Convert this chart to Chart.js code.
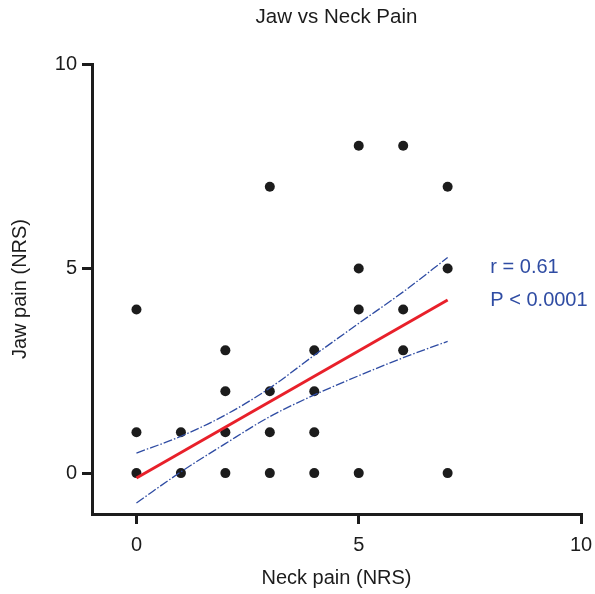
<!DOCTYPE html>
<html>
<head>
<meta charset="utf-8">
<script src="https://cdn.jsdelivr.net/npm/chart.js@4.4.1/dist/chart.umd.min.js"></script>
<style>
    html, body { margin: 0; padding: 0; background: #fff; }
    #wrap { width: 595px; height: 594px; }
</style>
</head>
<body>
<div id="wrap"><canvas id="chart" width="595" height="594"></canvas></div>
<script>
// observed scores (neck pain x, jaw pain y)
var neckPain = [0, 0, 0, 1, 1, 2, 2, 2, 2, 3, 3, 3, 3, 4, 4, 4, 4, 5, 5, 5, 5, 6, 6, 6, 7, 7, 7];
var jawPain  = [0, 1, 4, 0, 1, 0, 1, 2, 3, 0, 1, 2, 7, 0, 1, 2, 3, 0, 4, 5, 8, 3, 4, 8, 0, 5, 7];

// fitted line and 95% band
var fitX = [0, 7];
var fitY = [-0.12, 4.23];
var bandX = [0, 1, 2, 3, 4, 5, 6, 7];
var bandUpper = [0.49, 0.90, 1.42, 2.08, 2.88, 3.66, 4.43, 5.27];
var bandLower = [-0.73, 0.03, 0.72, 1.38, 1.91, 2.38, 2.82, 3.22];

var axisTicks = [0, 5, 10];
var chartTitle = 'Jaw vs Neck Pain';
var statLines = ['r = 0.61', 'P < 0.0001'];
var statY = [5.03, 4.22];

var FONT = '"Liberation Sans", Arial, Helvetica, sans-serif';
var INK = '#1c1c1c';
var BLUE = '#2f4ca3';

function toPoints(xs, ys) {
    var out = [];
    for (var i = 0; i < xs.length; i++) out.push({ x: xs[i], y: ys[i] });
    return out;
}

function fixedTicks(scale) {
    scale.ticks = axisTicks.map(function (v) { return { value: v }; });
}

// title is centred over the plot area, not the canvas; stats sit right of the fit
var textPlugin = {
    id: 'texts',
    afterDatasetsDraw: function (chart) {
        var ctx = chart.ctx;
        var area = chart.chartArea;
        var xs = chart.scales.x, ys = chart.scales.y;
        ctx.save();
        ctx.textBaseline = 'middle';

        ctx.font = '20.5px ' + FONT;
        ctx.fillStyle = INK;
        ctx.textAlign = 'center';
        ctx.fillText(chartTitle, (area.left + area.right) / 2, 17);

        ctx.font = '20px ' + FONT;
        ctx.fillStyle = BLUE;
        ctx.textAlign = 'left';
        for (var i = 0; i < statLines.length; i++) {
            ctx.fillText(statLines[i], xs.getPixelForValue(7.96), ys.getPixelForValue(statY[i]));
        }
        ctx.restore();
    }
};

var bandStyle = {
    showLine: true,
    fill: false,
    borderColor: BLUE,
    borderWidth: 1.3,
    borderDash: [9, 2, 1.5, 2],
    pointRadius: 0,
    cubicInterpolationMode: 'monotone'
};

new Chart(document.getElementById('chart').getContext('2d'), {
    type: 'scatter',
    data: {
        datasets: [
            Object.assign({ data: toPoints(bandX, bandUpper) }, bandStyle),
            Object.assign({ data: toPoints(bandX, bandLower) }, bandStyle),
            {
                data: toPoints(fitX, fitY),
                showLine: true,
                borderColor: '#e8202a',
                borderWidth: 3,
                pointRadius: 0
            },
            {
                data: toPoints(neckPain, jawPain),
                backgroundColor: INK,
                borderColor: INK,
                pointRadius: 5,
                pointBorderWidth: 0
            }
        ]
    },
    options: {
        responsive: false,
        animation: false,
        layout: { padding: { left: 0, right: 14, top: 64, bottom: 0 } },
        plugins: {
            legend: { display: false },
            tooltip: { enabled: false },
            title: { display: false }
        },
        scales: {
            x: {
                type: 'linear',
                min: -1,
                max: 10,
                afterBuildTicks: fixedTicks,
                afterFit: function (s) { s.height = 80; s.paddingLeft = 0; s.paddingRight = 0; },
                border: { display: true, color: INK, width: 3 },
                grid: { drawOnChartArea: false, drawTicks: true, tickLength: 10, lineWidth: 3, color: INK },
                ticks: { color: INK, font: { family: FONT, size: 20 }, padding: 9 },
                title: {
                    display: true,
                    text: 'Neck pain (NRS)',
                    color: INK,
                    font: { family: FONT, size: 20 },
                    padding: { top: 0, bottom: 4 }
                }
            },
            y: {
                type: 'linear',
                min: -1,
                max: 10,
                afterBuildTicks: fixedTicks,
                afterFit: function (s) { s.width = 92; s.paddingTop = 0; s.paddingBottom = 0; },
                border: { display: true, color: INK, width: 3 },
                grid: { drawOnChartArea: false, drawTicks: true, tickLength: 10, lineWidth: 3, color: INK },
                ticks: { color: INK, font: { family: FONT, size: 20 }, padding: 5 },
                title: {
                    display: true,
                    text: 'Jaw pain (NRS)',
                    color: INK,
                    font: { family: FONT, size: 20 },
                    padding: { top: 8, bottom: 0 }
                }
            }
        }
    },
    plugins: [textPlugin]
});
</script>
</body>
</html>
